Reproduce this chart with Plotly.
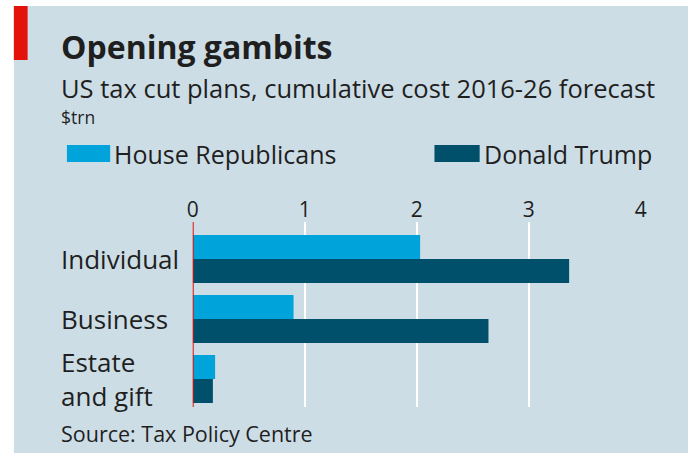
import plotly.graph_objects as go

W, H = 694, 455

categories = ["Individual", "Business", "Estate<br>and gift"]
house_republicans = [2.03, 0.90, 0.20]
donald_trump = [3.36, 2.64, 0.18]
x_ticks = [0, 1, 2, 3, 4]

BG = "#cddde6"
LIGHT = "#00a4db"
DARK = "#00506b"
RED = "#e3120b"
TEXT = "#1f1f1f"
FONT = "Open Sans"


def px_x(p):
    return p / W


def px_y(p):
    return 1 - p / H


fig = go.Figure()
fig.add_trace(go.Bar(y=list(range(len(categories))), x=house_republicans, orientation="h",
                     name="House Republicans", marker=dict(color=LIGHT, line=dict(width=0)),
                     offsetgroup="hr"))
fig.add_trace(go.Bar(y=list(range(len(categories))), x=donald_trump, orientation="h",
                     name="Donald Trump", marker=dict(color=DARK, line=dict(width=0)),
                     offsetgroup="dt"))

# plot area: x 190..646 px for 0..4, y 222..407 px
fig.update_layout(
    width=W, height=H, margin=dict(l=0, r=0, t=0, b=0),
    paper_bgcolor="white", plot_bgcolor="rgba(0,0,0,0)",
    barmode="group", bargap=0.2, bargroupgap=0,
    showlegend=False,
    font=dict(family=FONT, color=TEXT),
    xaxis=dict(domain=[px_x(190), px_x(646)], range=[0, 4], side="top",
               tickvals=x_ticks, ticktext=[str(t) for t in x_ticks],
               tickfont=dict(size=21, color=TEXT), showgrid=True,
               gridcolor="white", gridwidth=2, zeroline=False,
               showline=False, ticks="", ticklabelstandoff=0),
    yaxis=dict(domain=[px_y(407), px_y(222)], range=[2.467, -0.617],
               showticklabels=False, showgrid=False, zeroline=False,
               showline=False),
)

shapes = [
    dict(type="rect", xref="paper", yref="paper", x0=px_x(8), x1=1, y0=px_y(453), y1=px_y(6),
         fillcolor=BG, line=dict(width=0), layer="below"),
    dict(type="rect", xref="paper", yref="paper", x0=px_x(8), x1=px_x(22), y0=px_y(60), y1=px_y(6),
         fillcolor=RED, line=dict(width=0), layer="below"),
    # zero line
    dict(type="line", xref="x", yref="paper", x0=0, x1=0, y0=px_y(407), y1=px_y(222),
         line=dict(color=RED, width=2), layer="above"),
    # legend swatches
    dict(type="rect", xref="paper", yref="paper", x0=px_x(62), x1=px_x(106), y0=px_y(162), y1=px_y(145),
         fillcolor=LIGHT, line=dict(width=0)),
    dict(type="rect", xref="paper", yref="paper", x0=px_x(436), x1=px_x(482), y0=px_y(162), y1=px_y(145),
         fillcolor=DARK, line=dict(width=0)),
]

LX = 54
annotations = [
    dict(text="<b>Opening gambits</b>", x=px_x(LX), y=px_y(47), xref="paper", yref="paper",
         xanchor="left", yanchor="middle", showarrow=False, font=dict(size=32, color=TEXT)),
    dict(text="US tax cut plans, cumulative cost 2016-26 forecast", x=px_x(LX), y=px_y(88),
         xref="paper", yref="paper", xanchor="left", yanchor="middle", showarrow=False,
         font=dict(size=25.5, color=TEXT)),
    dict(text="$trn", x=px_x(LX), y=px_y(117), xref="paper", yref="paper",
         xanchor="left", yanchor="middle", showarrow=False, font=dict(size=17.5, color=TEXT)),
    dict(text="House Republicans", x=px_x(108), y=px_y(154), xref="paper", yref="paper",
         xanchor="left", yanchor="middle", showarrow=False, font=dict(size=25, color=TEXT)),
    dict(text="Donald Trump", x=px_x(484), y=px_y(154), xref="paper", yref="paper",
         xanchor="left", yanchor="middle", showarrow=False, font=dict(size=25, color=TEXT)),
    dict(text="Source: Tax Policy Centre", x=px_x(LX), y=px_y(433), xref="paper", yref="paper",
         xanchor="left", yanchor="middle", showarrow=False, font=dict(size=21.5, color=TEXT)),
]
for i, c in enumerate(categories):
    annotations.append(dict(text=c, x=px_x(LX), y=i, xref="paper", yref="y",
                            xanchor="left", yanchor="middle", align="left", showarrow=False,
                            font=dict(size=26, color=TEXT)))

fig.update_layout(shapes=shapes, annotations=annotations)
fig.write_html("out.html")
